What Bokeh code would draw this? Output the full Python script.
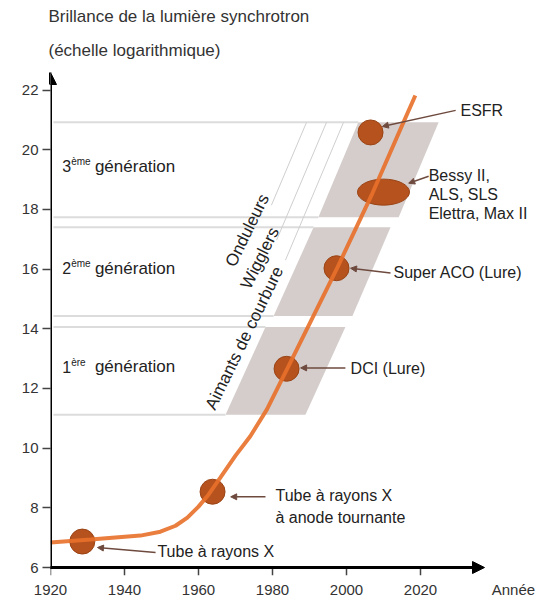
from bokeh.plotting import figure
from bokeh.models import Range1d, FixedTicker, Arrow, NormalHead, ColumnDataSource, Title
from bokeh.core.properties import value
from bokeh.embed import file_html
from bokeh.resources import INLINE

FONT = "Liberation Sans"

# ---- axes / texts ----
x_ticks = [1920, 1940, 1960, 1980, 2000, 2020]
y_ticks = [6, 8, 10, 12, 14, 16, 18, 20, 22]
x_label = "Année"
x_label_pos = 2045.1
title_1 = "Brillance de la lumière synchrotron"
title_2 = "(échelle logarithmique)"

# ---- brilliance curve ----
curve_year = [1920, 1930.8, 1944.3, 1949.7, 1953.8, 1957.0, 1960.0, 1962.7, 1965.9,
              1970.0, 1974.0, 1978.5, 1984.1, 1997.6, 2007.0, 2015.4, 2018.6]
curve_val = [6.84, 6.94, 7.07, 7.20, 7.40, 7.67, 8.04, 8.44, 9.01,
             9.75, 10.40, 11.30, 12.69, 16.07, 18.54, 20.92, 21.82]

# ---- sources (points) ----
src_year = [1928.6, 1963.8, 1983.8, 1997.3, 2006.5]
src_val = [6.87, 8.54, 12.66, 16.03, 20.58]
bessy_year = [2010.0]
bessy_val = [18.58]

# ---- generation bands (parallelograms) ----
band_x = [[1967.3, 1988.9, 1999.7, 1978.1],
          [1980.3, 2001.6, 2011.9, 1991.1],
          [1992.4, 2014.1, 2024.9, 2003.2]]
band_y = [[11.12, 11.12, 14.06, 14.06],
          [14.43, 14.43, 17.40, 17.40],
          [17.74, 17.74, 20.92, 20.92]]
gen_num = ["1", "2", "3"]
gen_sup = ["ère", "ème", "ème"]
gen_word = ["génération", "génération", "génération"]
gen_val = [12.72, 16.03, 19.44]

# ---- magnet type labels ----
mag_text = ["Onduleurs", "Wigglers", "Aimants de courbure"]
mag_year = [1973.2, 1976.6, 1972.4]
mag_val = [17.30, 16.37, 13.69]
diag_x0 = [1989.2, 1994.6, 1999.2]
diag_y0 = [20.92, 20.92, 20.92]
diag_x1 = [1979.7, 1981.1, 1983.5]
diag_y1 = [18.14, 16.97, 16.30]

# ---- annotations ----
ann_text = ["ESFR", "Bessy II,", "ALS, SLS", "Elettra, Max II", "Super ACO (Lure)",
            "DCI (Lure)", "Tube à rayons X", "à anode tournante", "Tube à rayons X"]
ann_year = [2030.8, 2022.2, 2022.2, 2022.2, 2012.7, 2001.1, 1980.8, 1980.8, 1948.9]
ann_val = [21.32, 19.14, 18.51, 17.87, 15.87, 12.66, 8.41, 7.67, 6.54]
lead_x0 = [2029.5, 2022.2, 2011.9, 1999.7, 1978.1, 1948.4]
lead_y0 = [21.32, 19.11, 15.87, 12.69, 8.37, 6.50]
lead_x1 = [2009.7, 2016.8, 2001.1, 1987.6, 1968.7, 1932.7]
lead_y1 = [20.78, 18.88, 16.03, 12.69, 8.37, 6.67]

p = figure(width=536, height=600, x_range=Range1d(1920, 2051.35), y_range=Range1d(5.699, 22.589),
           output_backend="svg", toolbar_location=None, title=None,
           min_border_left=50, min_border_right=0, min_border_top=72, min_border_bottom=23)
p.xgrid.visible = False
p.ygrid.visible = False
p.outline_line_color = None
p.xaxis.ticker = FixedTicker(ticks=x_ticks + [x_label_pos])
p.xaxis.major_label_overrides = {x_label_pos: x_label}
p.yaxis.ticker = FixedTicker(ticks=y_ticks)
p.axis.axis_line_color = None
p.axis.minor_tick_line_color = None
p.axis.major_tick_in = 0
p.yaxis.major_tick_out = 8
p.xaxis.major_tick_out = 0
p.xaxis.major_tick_line_color = None
p.yaxis.major_tick_line_color = "#444444"
p.yaxis.major_tick_line_width = 1.5
p.axis.major_label_text_font = FONT
p.axis.major_label_text_font_size = "15px"
p.axis.major_label_text_color = "#333333"
p.xaxis.major_label_standoff = 4
p.yaxis.major_label_standoff = 4

# titles
p.add_layout(Title(text=title_2, align="left", offset=-2, standoff=25, text_font=FONT,
                   text_font_size="17px", text_font_style="normal", text_color="#333333"), "above")
p.add_layout(Title(text=title_1, align="left", offset=-2, standoff=1, text_font=FONT,
                   text_font_size="17px", text_font_style="normal", text_color="#333333"), "above")

# bands
p.patches(xs=band_x, ys=band_y, fill_color="#d4cdcb", line_color=None)

# horizontal guide lines (band edges extended to the axis)
hx1 = [b[0] for b in band_x] + [b[3] for b in band_x]
hy = [b[0] for b in band_y] + [b[2] for b in band_y]
p.segment(x0=[1920.8] * len(hx1), y0=hy, x1=hx1, y1=hy, line_color="#dcdcdc", line_width=2)

# diagonal thin lines
p.segment(x0=diag_x0, y0=diag_y0, x1=diag_x1, y1=diag_y1, line_color="#cfcfcf", line_width=1)

# generation labels
p.text(x=[1923.2] * 3, y=gen_val, text=gen_num, text_font=value(FONT), text_font_size=value("16px"),
       text_baseline="middle", text_color="#222222")
p.text(x=[1925.6] * 3, y=[v + 0.16 for v in gen_val], text=gen_sup, text_font=value(FONT),
       text_font_size=value("10px"), text_baseline="middle", text_color="#222222")
p.text(x=[1932.0] * 3, y=gen_val, text=gen_word, text_font=value(FONT), text_font_size=value("17px"),
       text_baseline="middle", text_color="#222222")

# magnet labels
p.text(x=mag_year, y=mag_val, text=mag_text, angle=64, angle_units="deg", text_font=value(FONT),
       text_font_size=value("17px"), text_align="center", text_baseline="middle", text_color="#222222")

# points
p.scatter(x=src_year, y=src_val, size=25, fill_color="#b5521e", line_color="#9a4416", line_width=1)
p.ellipse(x=bessy_year, y=bessy_val, width=52, height=26, width_units="screen", height_units="screen",
          fill_color="#b5521e", line_color="#9a4416", line_width=1)

# curve
p.line(x=curve_year, y=curve_val, line_color="#e8702a", line_width=4, line_alpha=0.9)

# annotation texts
p.text(x=ann_year, y=ann_val, text=ann_text, text_font=value(FONT), text_font_size=value("16px"),
       text_baseline="middle", text_color="#222222")

# leaders
lead_src = ColumnDataSource(dict(x0=lead_x0, y0=lead_y0, x1=lead_x1, y1=lead_y1))
p.add_layout(Arrow(x_start="x0", y_start="y0", x_end="x1", y_end="y1", source=lead_src,
                   line_color="#6e4a3e", line_width=1.5,
                   end=NormalHead(size=6, fill_color="#6e4a3e", line_color="#6e4a3e")))

# x tick marks (below the axis line)
p.segment(x0=x_ticks, y0=[6] * len(x_ticks), x1=x_ticks, y1=[5.74] * len(x_ticks),
          line_color="#444444", line_width=1.5)

# axis arrows
p.add_layout(Arrow(x_start=1920, y_start=5.95, x_end=1920, y_end=22.589, line_color="black", line_width=3,
                   end=NormalHead(size=12, fill_color="black", line_color="black")))
p.add_layout(Arrow(x_start=1919.6, y_start=6, x_end=2037.3, y_end=6, line_color="black", line_width=3,
                   end=NormalHead(size=12, fill_color="black", line_color="black")))

open("out.html", "w").write(file_html(p, INLINE))
